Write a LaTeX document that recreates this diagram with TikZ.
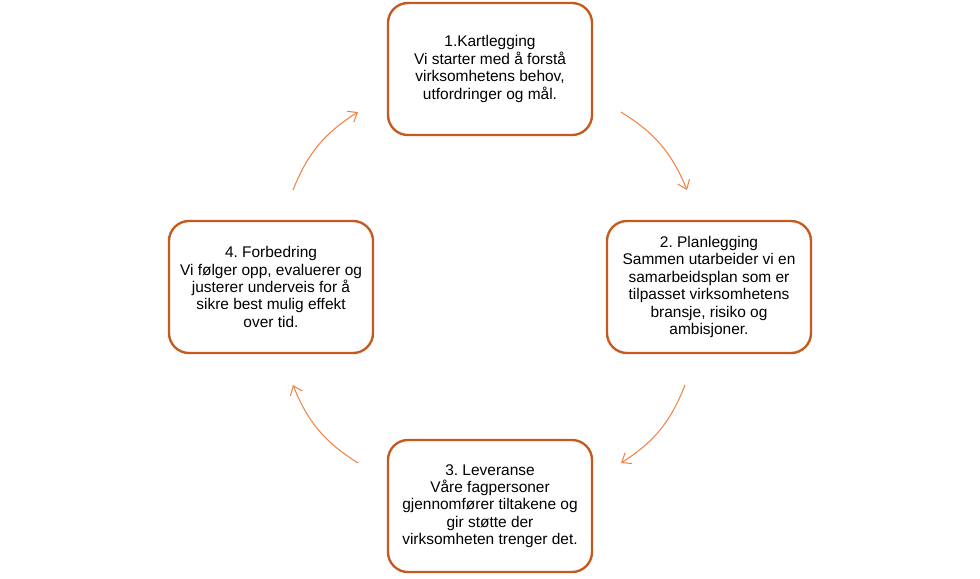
\documentclass[tikz,border=0pt]{standalone}
\usepackage{fontspec}
\setmainfont{Liberation Sans}
\usetikzlibrary{arrows.meta}
\definecolor{boxorange}{HTML}{C65A1E}
\definecolor{arrorange}{HTML}{EE8448}
\frenchspacing

\begin{document}
\begin{tikzpicture}[
  x=0.03cm,y=-0.03cm,
  font=\fontsize{13.2}{14.8}\selectfont,
  stepbox/.style={rectangle,rounded corners=0.6cm,draw=boxorange,line width=2pt,fill=white,minimum width=6.12cm,minimum height=3.96cm,align=center,inner sep=2pt},
  cyclearr/.style={-{Straight Barb[length=7pt,width=11pt]},line width=0.9pt,arrorange},
]
\useasboundingbox (0,0) rectangle (980,578);

% Steps
\node[stepbox] (kart)  at (490,69)  {1.Kartlegging\\Vi starter med å forstå\\virksomhetens behov,\\utfordringer og mål.};
\node[stepbox] (plan)  at (709,287) {2. Planlegging\\Sammen utarbeider vi en\\samarbeidsplan som er\\tilpasset virksomhetens\\bransje, risiko og\\ambisjoner.};
\node[stepbox] (lev)   at (490,506) {3. Leveranse\\Våre fagpersoner\\gjennomfører tiltakene og\\gir støtte der\\virksomheten trenger det.};
\node[stepbox] (forb)  at (271,287) {4. Forbedring\\Vi følger opp, evaluerer og\\justerer underveis for å\\sikre best mulig effekt\\over tid.};

% Arrow ends
\coordinate (kartout) at (621,112);
\coordinate (planin)  at (687,190);
\coordinate (planout) at (685,385);
\coordinate (levin)   at (621,463);
\coordinate (levout)  at (358,463);
\coordinate (forbin)  at (293,385);
\coordinate (forbout) at (293,190);
\coordinate (kartin)  at (358,112);

% Cycle
\draw[cyclearr] (kartout) to[bend left=18] (planin);
\draw[cyclearr] (planout) to[bend left=18] (levin);
\draw[cyclearr] (levout)  to[bend left=18] (forbin);
\draw[cyclearr] (forbout) to[bend left=18] (kartin);
\end{tikzpicture}
\end{document}
